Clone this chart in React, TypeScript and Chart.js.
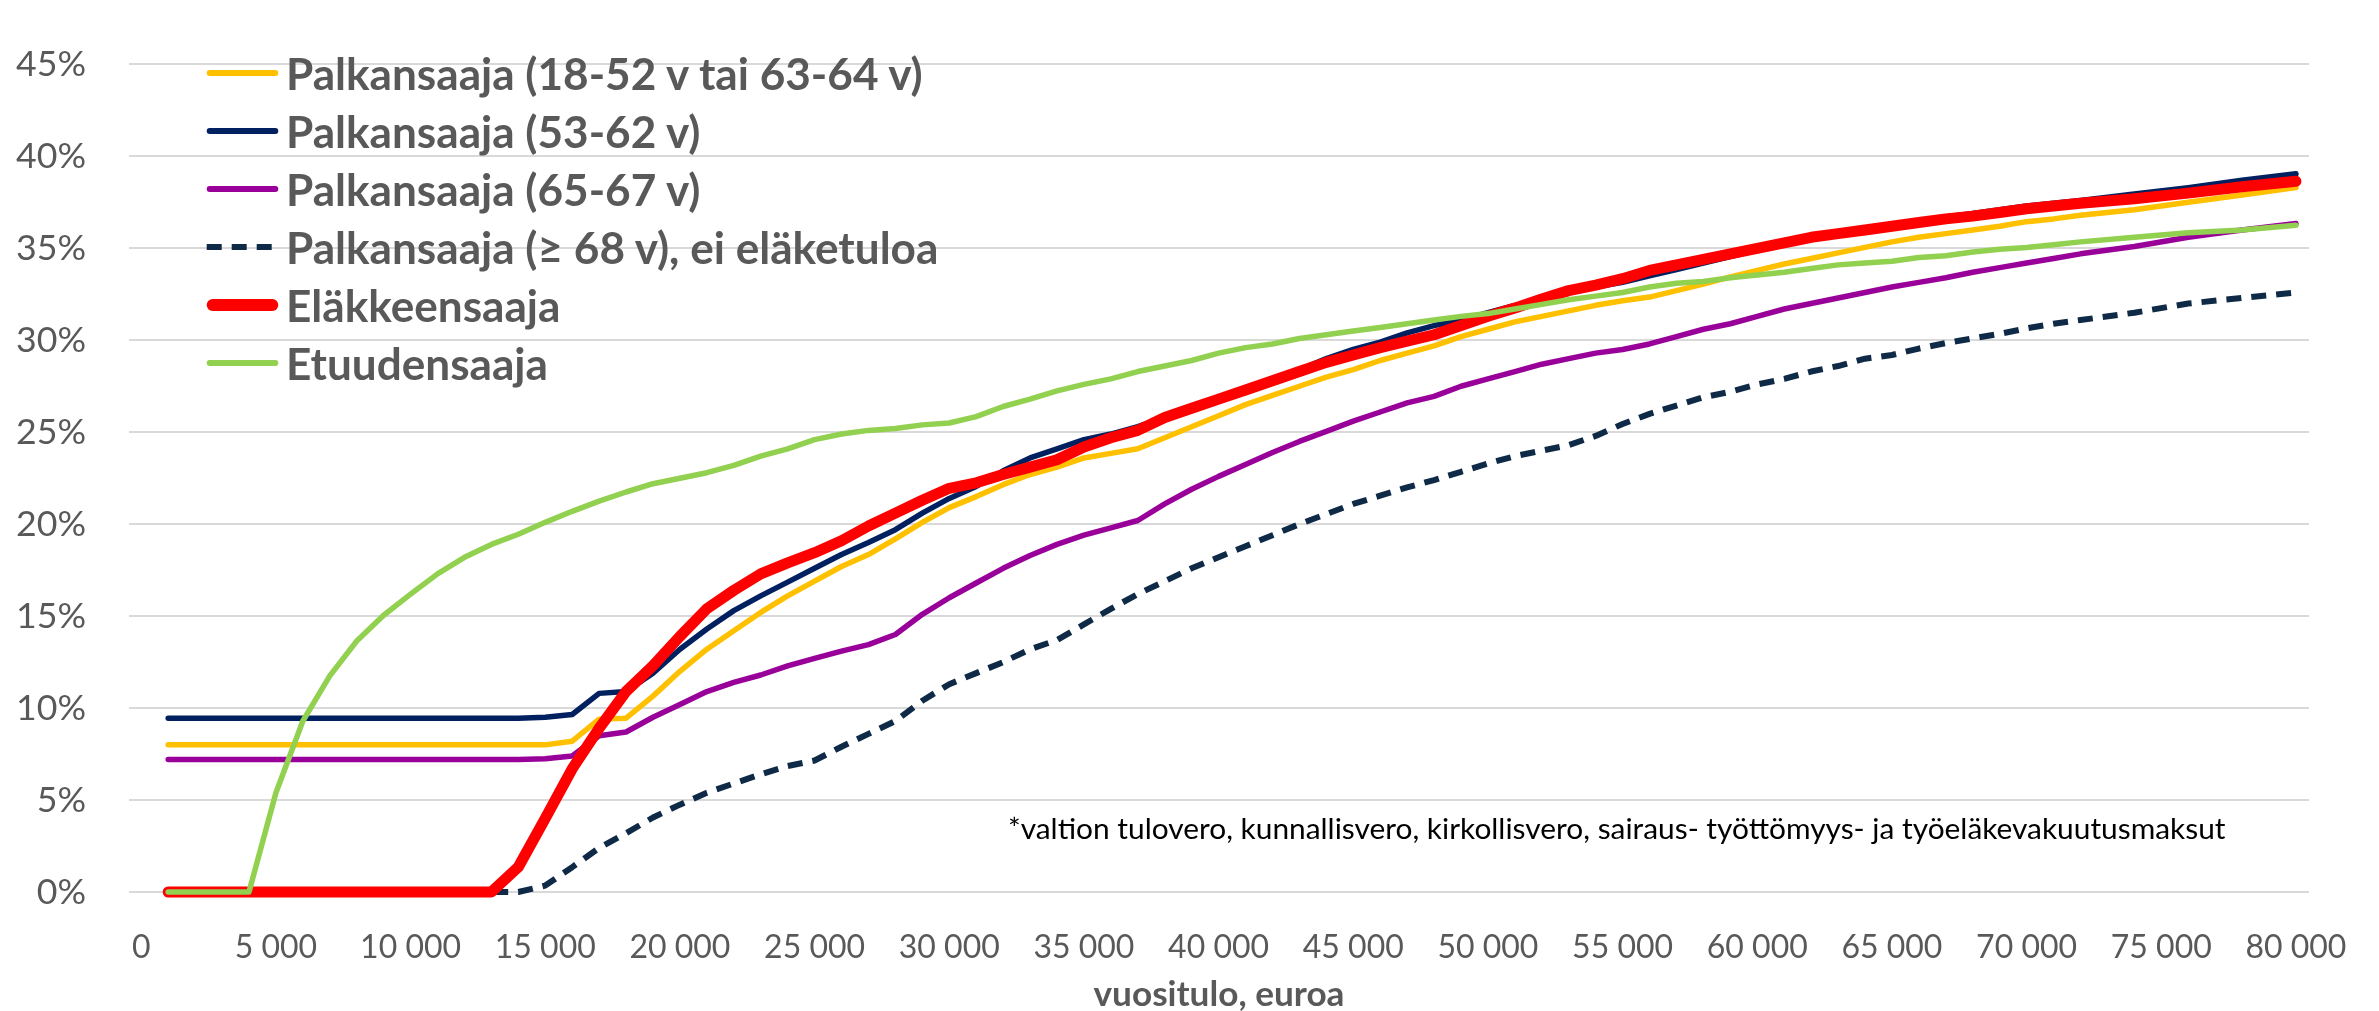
import React, { useEffect, useMemo, useRef } from 'react';
import { Chart, registerables } from 'chart.js';

Chart.register(...registerables);

const FAMILY = "Lato, 'Open Sans', 'DejaVu Sans', sans-serif";

// Annual income (euros)
const income = [
  1000, 2000, 3000, 4000, 5000, 6000, 7000, 8000, 9000, 10000,
  11000, 12000, 13000, 14000, 15000, 16000, 17000, 18000, 19000, 20000,
  21000, 22000, 23000, 24000, 25000, 26000, 27000, 28000, 29000, 30000,
  31000, 32000, 33000, 34000, 35000, 36000, 37000, 38000, 39000, 40000,
  41000, 42000, 43000, 44000, 45000, 46000, 47000, 48000, 49000, 50000,
  51000, 52000, 53000, 54000, 55000, 56000, 57000, 58000, 59000, 60000,
  61000, 62000, 63000, 64000, 65000, 66000, 67000, 68000, 69000, 70000,
  71000, 72000, 74000, 76000, 78000, 80000,
];

const palkansaaja1852 = [
  8.0, 8.0, 8.0, 8.0, 8.0, 8.0, 8.0, 8.0, 8.0, 8.0,
  8.0, 8.0, 8.0, 8.0, 8.0, 8.2, 9.4, 9.45, 10.65, 12.0,
  13.2, 14.2, 15.2, 16.1, 16.9, 17.7, 18.35, 19.2, 20.1, 20.9,
  21.5, 22.15, 22.7, 23.1, 23.6, 23.85, 24.1, 24.7, 25.3, 25.9,
  26.5, 27.0, 27.5, 28.0, 28.4, 28.9, 29.3, 29.7, 30.2, 30.6,
  31.0, 31.3, 31.6, 31.9, 32.15, 32.35, 32.7, 33.05, 33.45, 33.8,
  34.15, 34.45, 34.75, 35.05, 35.35, 35.6, 35.8, 36.0, 36.2, 36.45,
  36.6, 36.8, 37.1, 37.5, 37.9, 38.3,
];

const palkansaaja5362 = [
  9.45, 9.45, 9.45, 9.45, 9.45, 9.45, 9.45, 9.45, 9.45, 9.45,
  9.45, 9.45, 9.45, 9.45, 9.5, 9.65, 10.8, 10.9, 11.9, 13.2,
  14.3, 15.3, 16.1, 16.85, 17.6, 18.35, 19.0, 19.7, 20.6, 21.4,
  22.05, 22.9, 23.6, 24.1, 24.6, 24.9, 25.3, 25.8, 26.3, 26.8,
  27.3, 27.8, 28.4, 29.0, 29.5, 29.9, 30.4, 30.8, 31.1, 31.5,
  31.9, 32.25, 32.6, 32.9, 33.15, 33.5, 33.85, 34.2, 34.55, 34.9,
  35.25, 35.55, 35.8, 36.05, 36.25, 36.5, 36.7, 36.9, 37.1, 37.3,
  37.45, 37.6, 37.95, 38.3, 38.7, 39.05,
];

const palkansaaja6567 = [
  7.2, 7.2, 7.2, 7.2, 7.2, 7.2, 7.2, 7.2, 7.2, 7.2,
  7.2, 7.2, 7.2, 7.2, 7.25, 7.4, 8.5, 8.7, 9.5, 10.2,
  10.9, 11.4, 11.8, 12.3, 12.7, 13.1, 13.45, 14.0, 15.1, 16.0,
  16.8, 17.6, 18.3, 18.9, 19.4, 19.8, 20.2, 21.1, 21.9, 22.6,
  23.25, 23.9, 24.5, 25.05, 25.6, 26.1, 26.6, 26.95, 27.5, 27.9,
  28.3, 28.7, 29.0, 29.3, 29.5, 29.8, 30.2, 30.6, 30.9, 31.3,
  31.7, 32.0, 32.3, 32.6, 32.9, 33.15, 33.4, 33.7, 33.95, 34.2,
  34.45, 34.7, 35.1, 35.6, 36.0, 36.35,
];

const palkansaaja68 = [
  0, 0, 0, 0, 0, 0, 0, 0, 0, 0,
  0, 0, 0, 0, 0.35, 1.35, 2.4, 3.2, 4.05, 4.75,
  5.4, 5.9, 6.4, 6.85, 7.15, 7.9, 8.6, 9.3, 10.4, 11.3,
  11.9, 12.5, 13.2, 13.7, 14.55, 15.4, 16.2, 16.9, 17.6, 18.2,
  18.8, 19.4, 20.0, 20.55, 21.1, 21.55, 22.0, 22.4, 22.85, 23.3,
  23.7, 24.0, 24.3, 24.8, 25.45, 26.0, 26.45, 26.9, 27.2, 27.6,
  27.9, 28.3, 28.6, 29.0, 29.2, 29.55, 29.85, 30.1, 30.35, 30.65,
  30.9, 31.1, 31.5, 32.0, 32.3, 32.6,
];

const elakkeensaaja = [
  0, 0, 0, 0, 0, 0, 0, 0, 0, 0,
  0, 0, 0, 1.36, 4.0, 6.7, 8.9, 10.9, 12.3, 13.9,
  15.4, 16.4, 17.3, 17.9, 18.45, 19.1, 19.9, 20.6, 21.3, 21.95,
  22.25, 22.7, 23.1, 23.5, 24.2, 24.7, 25.1, 25.8, 26.3, 26.8,
  27.3, 27.8, 28.3, 28.8, 29.2, 29.6, 29.95, 30.3, 30.8, 31.3,
  31.75, 32.25, 32.7, 33.0, 33.35, 33.8, 34.1, 34.4, 34.7, 35.0,
  35.3, 35.6, 35.8, 36.0, 36.2, 36.4, 36.6, 36.75, 36.95, 37.15,
  37.3, 37.45, 37.7, 38.0, 38.35, 38.65,
];

const etuudensaaja = [
  0, 0, 0, 0, 5.4, 9.3, 11.75, 13.65, 15.05, 16.2,
  17.3, 18.2, 18.9, 19.45, 20.1, 20.7, 21.25, 21.75, 22.2, 22.5,
  22.8, 23.2, 23.7, 24.1, 24.6, 24.9, 25.1, 25.2, 25.4, 25.5,
  25.85, 26.4, 26.8, 27.25, 27.6, 27.9, 28.3, 28.6, 28.9, 29.3,
  29.6, 29.8, 30.1, 30.3, 30.5, 30.7, 30.9, 31.1, 31.3, 31.45,
  31.7, 31.95, 32.2, 32.4, 32.6, 32.9, 33.1, 33.2, 33.4, 33.55,
  33.7, 33.9, 34.1, 34.2, 34.3, 34.5, 34.6, 34.8, 34.95, 35.05,
  35.2, 35.35, 35.6, 35.85, 36.0, 36.25,
];

const xTickValues = [0, 5000, 10000, 15000, 20000, 25000, 30000, 35000, 40000, 45000, 50000, 55000, 60000, 65000, 70000, 75000, 80000];
const yTickValues = [0, 5, 10, 15, 20, 25, 30, 35, 40, 45];

const seriesLabels = [
  'Palkansaaja (18-52 v tai 63-64 v)',
  'Palkansaaja (53-62 v)',
  'Palkansaaja (65-67 v)',
  'Palkansaaja (≥ 68 v), ei eläketuloa',
  'Eläkkeensaaja',
  'Etuudensaaja',
];
const seriesValues = [palkansaaja1852, palkansaaja5362, palkansaaja6567, palkansaaja68, elakkeensaaja, etuudensaaja];
const seriesColors = ['#FFC000', '#002060', '#990099', '#0E2A47', '#FF0000', '#92D050'];
const seriesWidths = [5.5, 5.5, 5.5, 6, 11, 5.5];
const seriesDashes: number[][] = [[], [], [], [15, 10], [], []];

const xTitle = 'vuositulo, euroa';
const footnote = '*valtion tulovero, kunnallisvero, kirkollisvero, sairaus- työttömyys- ja työeläkevakuutusmaksut';

function fitSize(text: string, target: number, weight: string): number {
  const ctx = document.createElement('canvas').getContext('2d');
  if (!ctx) return 40;
  ctx.font = `${weight} 100px ${FAMILY}`;
  const w = ctx.measureText(text).width;
  return w > 0 ? (100 * target) / w : 40;
}

function fmtThousands(v: number): string {
  return String(v).replace(/\B(?=(\d{3})+(?!\d))/g, ' ');
}

export default function App() {
  const canvasRef = useRef<HTMLCanvasElement>(null);

  const sizes = useMemo(
    () => ({
      legend: fitSize(seriesLabels[0], 640, 'bold'),
      yTick: fitSize('45%', 70, 'normal'),
      xTick: fitSize('80 000', 101, 'normal'),
      title: fitSize(xTitle, 251, 'bold'),
      note: fitSize(footnote, 1218, 'normal'),
    }),
    []
  );

  useEffect(() => {
    if (!canvasRef.current) return;
    const order = [6, 5, 4, 3, 2, 1];
    const chart = new Chart(canvasRef.current, {
      type: 'line',
      data: {
        datasets: seriesLabels.map((label, i) => ({
          label,
          data: seriesValues[i].map((y, k) => ({ x: income[k], y })),
          borderColor: seriesColors[i],
          backgroundColor: seriesColors[i],
          borderWidth: seriesWidths[i],
          borderDash: seriesDashes[i],
          borderCapStyle: (seriesDashes[i].length ? 'butt' : 'round') as any,
          borderJoinStyle: 'round' as const,
          pointRadius: 0,
          pointHoverRadius: 0,
          tension: 0,
          fill: false,
          clip: false as any,
          order: order[i],
        })),
      },
      options: {
        responsive: false,
        animation: false,
        devicePixelRatio: 1,
        layout: { padding: { left: 0, top: 27, right: 70, bottom: 0 } },
        plugins: {
          legend: { display: false },
          tooltip: { enabled: false },
        },
        events: [],
        scales: {
          x: {
            type: 'linear',
            min: -455,
            max: 80485,
            grid: { display: false },
            border: { display: false },
            afterBuildTicks: (scale: any) => {
              scale.ticks = xTickValues.map((v) => ({ value: v }));
            },
            afterFit: (scale: any) => {
              scale.height = 119;
            },
            ticks: {
              autoSkip: false,
              maxRotation: 0,
              minRotation: 0,
              color: '#595959',
              padding: 48 - sizes.xTick * 0.6,
              font: { family: FAMILY, size: sizes.xTick, lineHeight: 1.2 },
              callback: (v: any) => fmtThousands(Number(v)),
            },
            title: {
              display: true,
              text: xTitle,
              color: '#595959',
              font: { family: FAMILY, size: sizes.title, weight: 'bold', lineHeight: 1 },
              padding: { top: 0, bottom: 16 - sizes.title / 2 },
            },
          },
          y: {
            type: 'linear',
            min: 0,
            max: 45,
            afterBuildTicks: (scale: any) => {
              scale.ticks = yTickValues.map((v) => ({ value: v }));
            },
            afterFit: (scale: any) => {
              scale.width = 129;
            },
            grid: { color: '#D9D9D9', lineWidth: 2, drawTicks: false },
            border: { display: false },
            ticks: {
              color: '#595959',
              padding: 43,
              font: { family: FAMILY, size: sizes.yTick, lineHeight: 1.2 },
              callback: (v: any) => `${v}%`,
            },
          },
        },
      } as any,
    });
    return () => chart.destroy();
  }, [sizes]);

  const rowY = [73, 131, 189, 247, 305, 363];

  return (
    <div style={{ position: 'fixed', left: 0, top: 0, width: 2379, height: 1011, background: '#ffffff', overflow: 'hidden' }}>
      <canvas ref={canvasRef} width={2379} height={1011} style={{ position: 'absolute', left: 0, top: 0, display: 'block' }} />
      {seriesLabels.map((label, i) => {
        const w = i === 4 ? 12 : 6;
        const dashed = seriesDashes[i].length > 0;
        const half = w / 2;
        return (
          <div
            key={label}
            style={{
              position: 'absolute',
              left: 200,
              top: rowY[i] - 30,
              height: 60,
              display: 'flex',
              alignItems: 'center',
              whiteSpace: 'nowrap',
            }}
          >
            <svg width={86} height={20} style={{ display: 'block', flex: '0 0 auto' }}>
              <line
                x1={dashed ? 6.7 : 6.7 + half}
                y1={10}
                x2={78.3 - half}
                y2={10}
                stroke={seriesColors[i]}
                strokeWidth={w}
                strokeLinecap={dashed ? 'butt' : 'round'}
                strokeDasharray={dashed ? '15 10' : undefined}
              />
            </svg>
            <span
              style={{
                fontFamily: FAMILY,
                fontWeight: 'bold',
                fontSize: sizes.legend,
                lineHeight: 1,
                color: '#595959',
              }}
            >
              {label}
            </span>
          </div>
        );
      })}
      <div
        style={{
          position: 'absolute',
          left: 1008,
          top: 828 - sizes.note * 0.6,
          fontFamily: FAMILY,
          fontSize: sizes.note,
          lineHeight: 1.2,
          color: '#000000',
          whiteSpace: 'nowrap',
        }}
      >
        {footnote}
      </div>
    </div>
  );
}
